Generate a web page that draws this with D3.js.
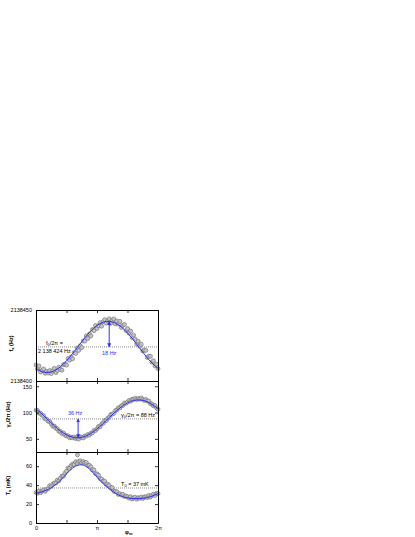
<!DOCTYPE html>
<html>
<head>
<meta charset="utf-8">
<script src="https://cdn.jsdelivr.net/npm/d3@7"></script>
<style>
  body { margin: 0; background: #fff; }
  text { font-family: "Liberation Sans", Arial, sans-serif; }
</style>
</head>
<body>
<script>
// phase of the scan, in units of pi
var phase = [0, 0.025, 0.05, 0.075, 0.1, 0.125, 0.15, 0.175, 0.2, 0.225,
  0.25, 0.275, 0.3, 0.325, 0.35, 0.375, 0.4, 0.425, 0.45, 0.475,
  0.5, 0.525, 0.55, 0.575, 0.6, 0.625, 0.65, 0.675, 0.7, 0.725,
  0.75, 0.775, 0.8, 0.825, 0.85, 0.875, 0.9, 0.925, 0.95, 0.975,
  1, 1.025, 1.05, 1.075, 1.1, 1.125, 1.15, 1.175, 1.2, 1.225,
  1.25, 1.275, 1.3, 1.325, 1.35, 1.375, 1.4, 1.425, 1.45, 1.475,
  1.5, 1.525, 1.55, 1.575, 1.6, 1.625, 1.65, 1.675, 1.7, 1.725,
  1.75, 1.775, 1.8, 1.825, 1.85, 1.875, 1.9, 1.925, 1.95, 1.975, 2];
var fitPhase = [0, 0.1, 0.2, 0.3, 0.4, 0.5, 0.6, 0.7, 0.8, 0.9, 1,
  1.1, 1.2, 1.3, 1.4, 1.5, 1.6, 1.7, 1.8, 1.9, 2];

// f_x, Hz above fBase
var fBase = 2138400;
var fData = [11.3, 8.5, 10.5, 6.3, 7.6, 8.5, 5.4, 6.8, 5.6, 7.4,
  5.2, 7.2, 8.9, 5.9, 7.5, 9.7, 8.2, 7.6, 11.5, 11.9,
  11.2, 15.8, 14.6, 16.9, 15.7, 20.0, 19.4, 23.3, 21.5, 24.8,
  23.5, 28.2, 28.2, 31.7, 29.9, 33.1, 31.8, 36.3, 35.4, 39.1,
  36.9, 38.9, 41.1, 38.6, 41.7, 43.2, 40.7, 42.3, 43.8, 40.6,
  42.7, 43.7, 40.2, 42.3, 40.1, 42.0, 37.7, 39.3, 39.8, 35.5,
  36.9, 33.7, 35.2, 30.6, 32.3, 29.5, 26.1, 28.0, 24.4, 25.9,
  21.2, 21.8, 21.5, 16.6, 17.5, 17.4, 13.2, 14.3, 10.6, 11.8, 8.7];
var fFit = [8.9, 6.6, 6.0, 7.2, 10.0, 14.2, 19.3, 24.9, 30.4, 35.3, 39.1,
  41.4, 42.0, 40.8, 38.0, 33.8, 28.7, 23.1, 17.6, 12.7, 8.9];

// gamma_x / 2pi, Hz
var gammaData = [104.6, 104.1, 98.8, 98.7, 94.8, 94.0, 88.3, 87.3, 83.3, 82.9,
  78.4, 74.1, 74.2, 70.2, 69.3, 64.4, 64.0, 60.4, 61.2, 57.1,
  55.4, 56.0, 52.0, 53.4, 51.9, 53.3, 50.5, 52.2, 49.6, 53.9,
  52.6, 51.8, 55.4, 55.2, 58.1, 57.2, 60.7, 61.2, 65.9, 65.8,
  69.0, 73.5, 73.2, 78.3, 79.8, 84.6, 84.5, 89.1, 90.9, 96.1,
  97.0, 98.3, 103.6, 104.8, 108.9, 108.8, 112.8, 113.6, 118.2, 117.7,
  119.7, 123.1, 121.5, 125.1, 124.7, 127.3, 124.8, 126.7, 125.5, 127.6,
  125.3, 123.1, 124.9, 121.8, 122.1, 117.0, 116.1, 112.8, 113.5, 109.0, 106.1];
var gammaFit = [107.3, 97.0, 85.7, 74.8, 65.1, 57.6, 53.1, 52.1, 54.5, 60.3, 68.7,
  79.0, 90.3, 101.2, 110.9, 118.4, 122.9, 123.9, 121.5, 115.7, 107.3];

// T_x, mK
var tempData = [32.3, 31.4, 33.7, 32.0, 33.8, 35.0, 33.6, 35.7, 36.2, 39.4,
  38.6, 41.0, 42.3, 42.2, 45.4, 44.6, 47.3, 49.6, 49.4, 52.7,
  54.7, 58.1, 57.8, 60.7, 62.3, 61.9, 64.6, 63.1, 65.0, 65.7,
  63.6, 64.8, 63.7, 63.9, 60.9, 61.0, 59.3, 56.2, 56.2, 52.3,
  51.8, 50.6, 46.9, 46.6, 44.2, 44.1, 41.0, 41.1, 39.6, 36.9,
  37.5, 33.6, 33.3, 33.0, 30.2, 30.9, 29.5, 30.3, 28.0, 28.5,
  27.8, 26.2, 27.8, 25.4, 26.6, 27.2, 25.2, 26.7, 26.0, 27.5,
  25.8, 27.4, 27.8, 26.8, 29.1, 27.3, 29.1, 30.4, 29.0, 31.2, 31.2];
var tempFit = [31.0, 33.0, 35.5, 39.5, 45.0, 52.0, 58.0, 61.2, 60.5, 55.5, 48.5,
  41.5, 36.3, 31.5, 28.3, 26.5, 25.8, 25.8, 26.5, 28.3, 31.0];
var tempOutPhase = [0.68];
var tempOut = [72];

var f0 = 2138424, gamma0 = 88, T0 = 37;
var fAmp = 18, gammaAmp = 36;
var fArrowPhase = 1.2, gammaArrowPhase = 0.69;

var xTickValues = [0, 0.5, 1, 1.5, 2];
var xTickLabels = ["0", "", "\u03c0", "", "2\u03c0"];
var fTicks = [2138400, 2138450];
var gammaTicks = [50, 100, 150];
var tempTicks = [0, 20, 40, 60];

var width = 415, height = 537;
var left = 36, right = 158;
var blue = "#3030ff";

var svg = d3.select("body").append("svg")
  .attr("width", width)
  .attr("height", height);

var defs = svg.append("defs");
defs.append("marker")
  .attr("id", "arr")
  .attr("viewBox", "0 0 10 10")
  .attr("refX", 9).attr("refY", 5)
  .attr("markerWidth", 4).attr("markerHeight", 4)
  .attr("markerUnits", "userSpaceOnUse")
  .attr("orient", "auto-start-reverse")
  .append("path")
    .attr("d", "M0,0L10,5L0,10Z")
    .attr("fill", blue);

var x = d3.scaleLinear().domain([0, 2]).range([left, right]);

var panels = [
  {top: 310, bottom: 381, domain: [fBase, fBase + 50], ticks: fTicks,
   data: fData.map(function(v) { return fBase + v; }),
   fit: fFit.map(function(v) { return fBase + v; }),
   ref: f0, label: ["f", "x", " (Hz)"], labelX: 12.5},
  {top: 381, bottom: 452, domain: [25, 160], ticks: gammaTicks,
   data: gammaData, fit: gammaFit,
   ref: gamma0, label: ["\u03b3", "x", "/2\u03c0 (Hz)"], labelX: 10},
  {top: 452, bottom: 523, domain: [0, 75], ticks: tempTicks,
   data: tempData, fit: tempFit,
   ref: T0, label: ["T", "x", " (mK)"], labelX: 10}
];

panels.forEach(function(p, pi) {
  var y = d3.scaleLinear().domain(p.domain).range([p.bottom, p.top]);
  p.y = y;
  var g = svg.append("g").attr("class", "panel");

  // reference level
  g.append("line")
    .attr("x1", left).attr("x2", right)
    .attr("y1", y(p.ref)).attr("y2", y(p.ref))
    .attr("stroke", "#444")
    .attr("stroke-width", 0.6)
    .attr("stroke-dasharray", "1,1");

  // data points
  var pts = phase.map(function(t, i) { return [t, p.data[i]]; });
  if (pi == 2) {
    tempOutPhase.forEach(function(t, i) { pts.push([t, tempOut[i]]); });
  }
  g.selectAll("circle")
    .data(pts)
    .enter().append("circle")
      .attr("cx", function(d) { return x(d[0]); })
      .attr("cy", function(d) { return y(d[1]); })
      .attr("r", 2)
      .attr("fill", "#c4c4c4")
      .attr("stroke", "#6c6c6c")
      .attr("stroke-width", 0.6);

  // fit
  var line = d3.line()
    .x(function(d, i) { return x(fitPhase[i]); })
    .y(function(d) { return y(d); })
    .curve(d3.curveNatural);
  g.append("path")
    .attr("d", line(p.fit))
    .attr("fill", "none")
    .attr("stroke", blue)
    .attr("stroke-width", 1);

  // axes
  var yl = g.append("g")
    .attr("transform", "translate(" + left + ",0)")
    .call(d3.axisLeft(y).tickValues(p.ticks).tickSize(-3).tickSizeOuter(0).tickPadding(4)
      .tickFormat(d3.format("d")));
  var yr = g.append("g")
    .attr("transform", "translate(" + right + ",0)")
    .call(d3.axisRight(y).tickValues(p.ticks).tickSize(-3).tickSizeOuter(0).tickFormat(""));
  var xt = g.append("g")
    .attr("transform", "translate(0," + p.top + ")")
    .call(d3.axisTop(x).tickValues(xTickValues).tickSize(-3).tickSizeOuter(0).tickFormat(""));
  var xb = g.append("g")
    .attr("transform", "translate(0," + p.bottom + ")")
    .call(d3.axisBottom(x).tickValues(xTickValues).tickSize(-3).tickSizeOuter(0).tickPadding(3)
      .tickFormat(function(d, i) { return pi == 2 ? xTickLabels[i] : ""; }));

  [yl, yr, xt, xb].forEach(function(a) {
    a.selectAll(".domain").attr("stroke", "#000").attr("stroke-width", 1);
    a.selectAll(".tick line").attr("stroke", "#000").attr("stroke-width", 0.8);
    a.selectAll("text").attr("font-size", "5.5px").attr("fill", "#000")
      .attr("font-family", "Liberation Sans, Arial, sans-serif");
  });

  // y label
  var lab = g.append("text")
    .attr("transform", "translate(" + p.labelX + "," + ((p.top + p.bottom) / 2 - 2) + ") rotate(-90)")
    .attr("text-anchor", "middle")
    .attr("font-size", "5.5px")
    .attr("font-weight", "bold");
  lab.append("tspan").text(p.label[0]);
  lab.append("tspan").attr("font-size", "4px").attr("dy", 1.2).text(p.label[1]);
  lab.append("tspan").attr("dy", -1.2).text(p.label[2]);
});

// x axis title
var xtitle = svg.append("text")
  .attr("x", 125).attr("y", 534)
  .attr("font-size", "5.5px")
  .attr("font-weight", "bold");
xtitle.append("tspan").text("\u03c6");
xtitle.append("tspan").attr("font-size", "4px").attr("dy", 1.2).text("m");

// annotations
var p1 = panels[0], p2 = panels[1], p3 = panels[2];

function subText(xp, yp, parts, color) {
  var t = svg.append("text")
    .attr("x", xp).attr("y", yp)
    .attr("font-size", "5.5px")
    .attr("fill", color || "#000");
  t.append("tspan").text(parts[0]);
  t.append("tspan").attr("font-size", "4px").attr("dy", 1.2).text(parts[1]);
  t.append("tspan").attr("dy", -1.2).text(parts[2]);
  return t;
}

subText(46, 344.5, ["f", "0", "/2\u03c0 ="]);
svg.append("text")
  .attr("x", 38).attr("y", 352.5)
  .attr("font-size", "5.5px")
  .text("2 138 424 Hz");

svg.append("line")
  .attr("x1", x(fArrowPhase)).attr("x2", x(fArrowPhase))
  .attr("y1", p1.y(f0)).attr("y2", p1.y(f0 + fAmp))
  .attr("stroke", blue).attr("stroke-width", 1)
  .attr("marker-start", "url(#arr)")
  .attr("marker-end", "url(#arr)");
svg.append("text")
  .attr("x", x(fArrowPhase)).attr("y", 354.5)
  .attr("text-anchor", "middle")
  .attr("font-size", "5.5px")
  .attr("fill", blue)
  .text(fAmp + " Hz");

svg.append("line")
  .attr("x1", x(gammaArrowPhase)).attr("x2", x(gammaArrowPhase))
  .attr("y1", p2.y(gamma0)).attr("y2", p2.y(gamma0 - gammaAmp))
  .attr("stroke", blue).attr("stroke-width", 1)
  .attr("marker-start", "url(#arr)")
  .attr("marker-end", "url(#arr)");
svg.append("text")
  .attr("x", x(gammaArrowPhase) - 3).attr("y", 415)
  .attr("text-anchor", "middle")
  .attr("font-size", "5.5px")
  .attr("fill", blue)
  .text(gammaAmp + " Hz");

subText(121, 416.5, ["\u03b3", "0", "/2\u03c0 = " + gamma0 + " Hz"]);
subText(121, 485.5, ["T", "0", " = " + T0 + " mK"]);
</script>
</body>
</html>
